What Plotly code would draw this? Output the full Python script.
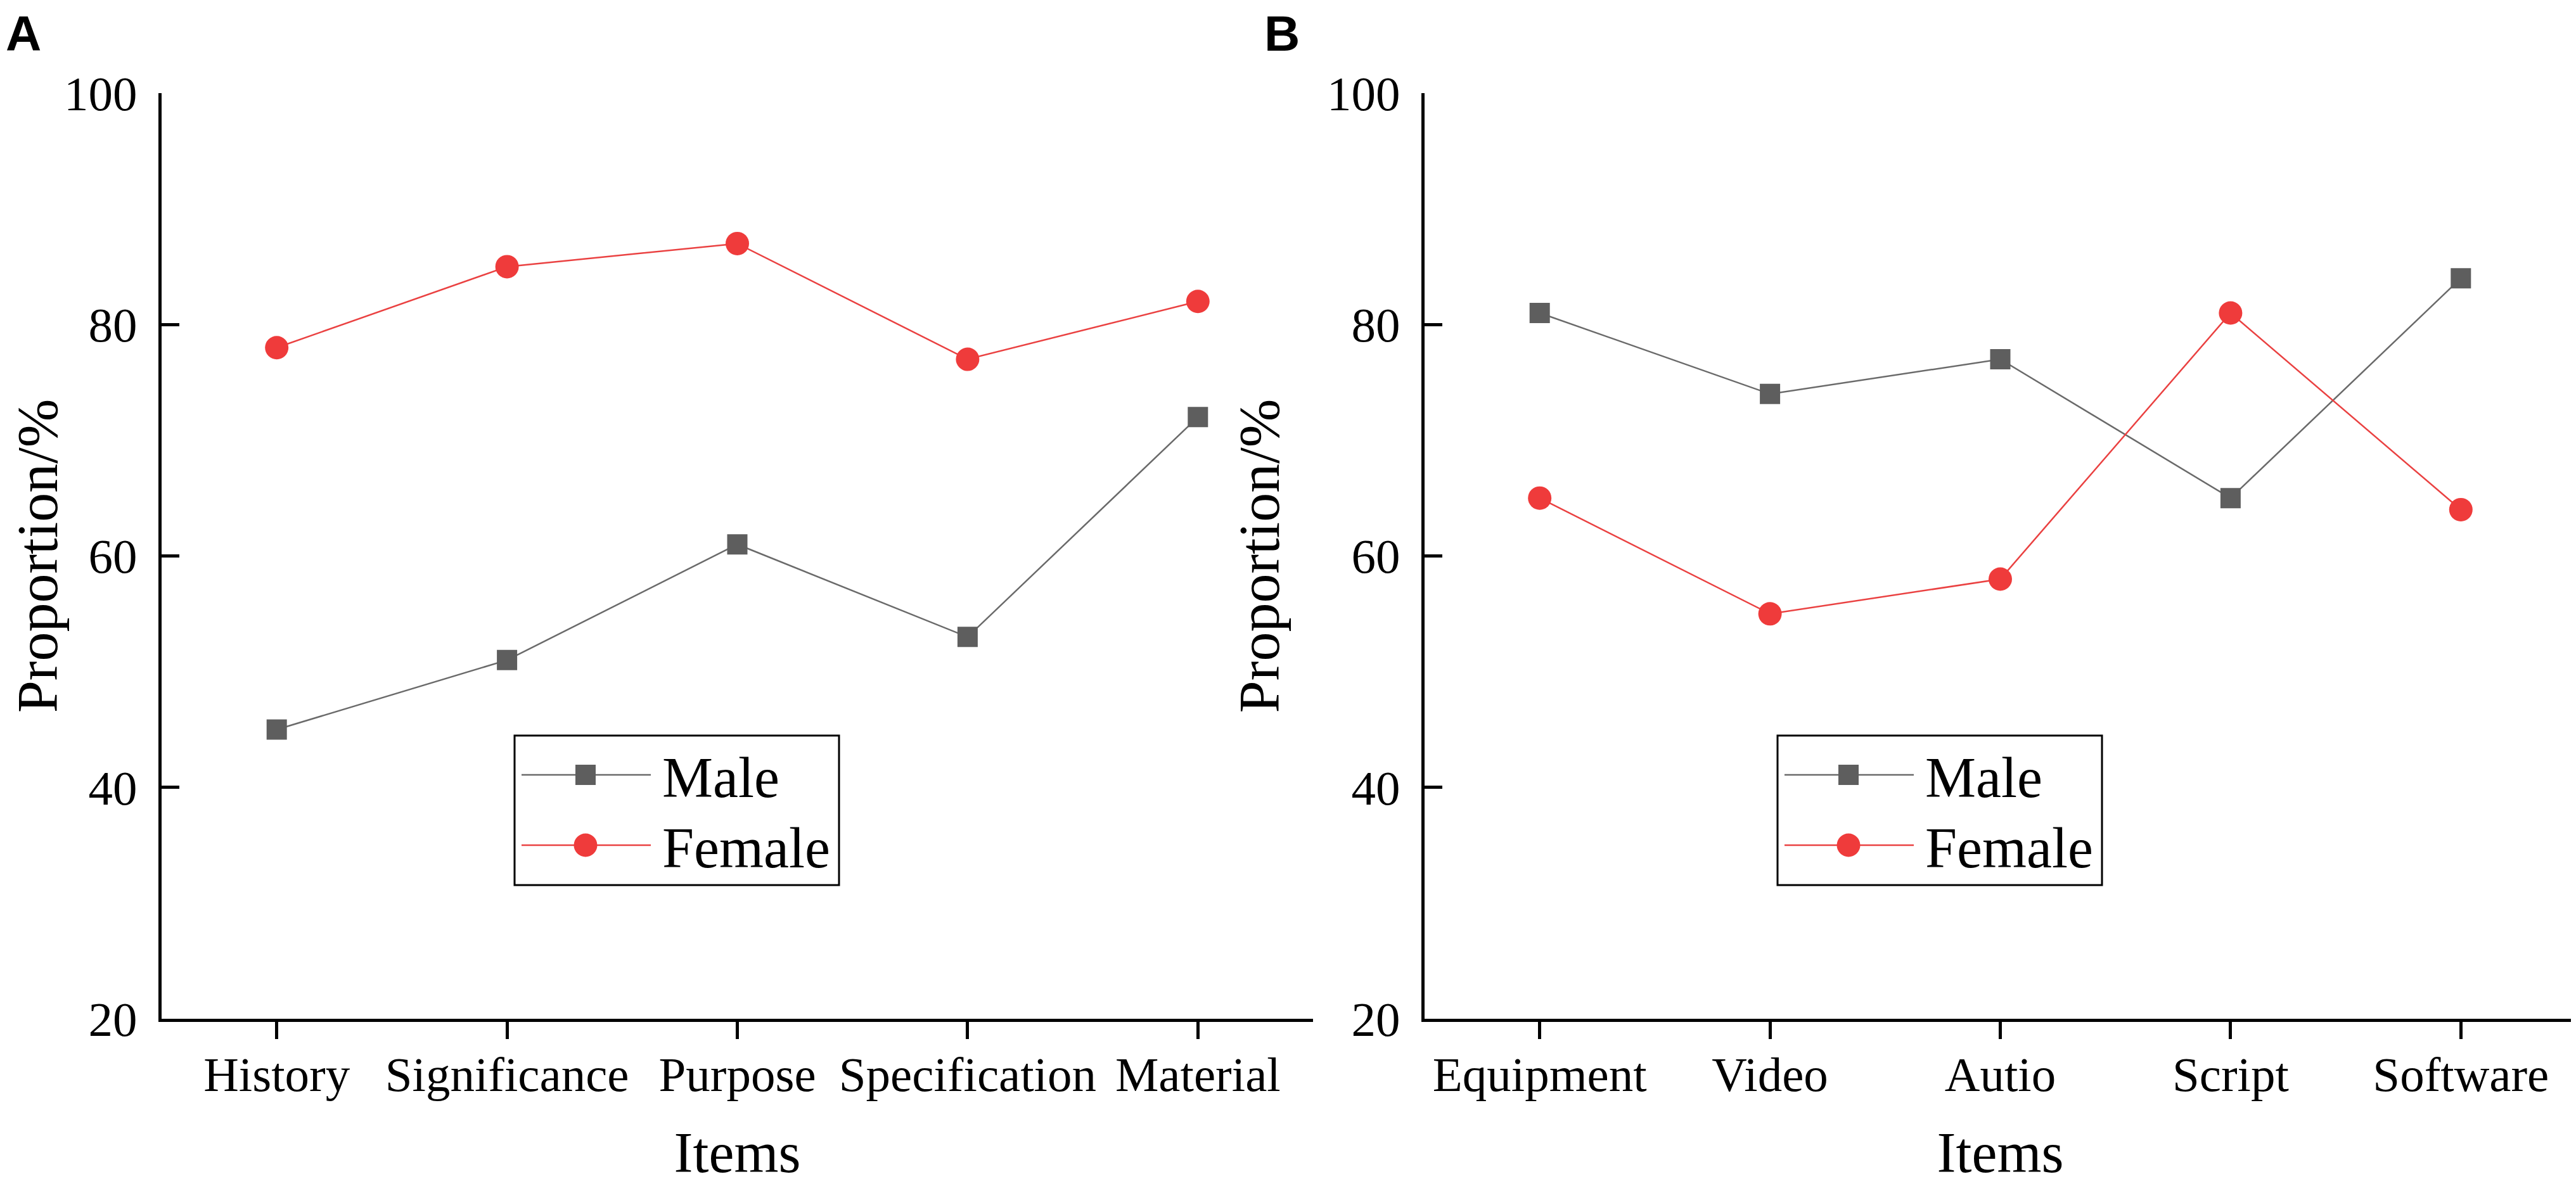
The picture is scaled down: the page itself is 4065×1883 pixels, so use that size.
import plotly.graph_objects as go

# ---------------- data ----------------
items_a = ["History", "Significance", "Purpose", "Specification", "Material"]
male_a = [45, 51, 61, 53, 72]
female_a = [78, 85, 87, 77, 82]

items_b = ["Equipment", "Video", "Autio", "Script", "Software"]
male_b = [81, 74, 77, 65, 84]
female_b = [65, 55, 58, 81, 64]

y_ticks = [20, 40, 60, 80, 100]
series_names = ["Male", "Female"]
panel_labels = ["A", "B"]

# ---------------- style ----------------
W, H = 4065, 1883
BODY = 8  # default page margin of the html body
FW, FH = W - BODY, H - BODY
MALE_COLOR = "#5E5E5E"
MALE_LINE = "#6A6A6A"
FEMALE_COLOR = "#EF3B3B"
FEMALE_LINE = "#EA4141"
SERIF = "Liberation Serif, Times New Roman, serif"
SANS = "Liberation Sans, Arial, sans-serif"


def px_x(x):
    return (x - BODY) / FW


def px_y(y):
    return 1 - (y - BODY) / FH


fig = go.Figure()

panels = [
    (items_a, male_a, female_a, "x", "y"),
    (items_b, male_b, female_b, "x2", "y2"),
]
for cats, m, f, xa, ya in panels:
    fig.add_trace(go.Scatter(
        x=cats, y=m, name="Male", mode="lines+markers",
        line=dict(color=MALE_LINE, width=2.5),
        marker=dict(symbol="square", size=32, color=MALE_COLOR, line=dict(width=0)),
        xaxis=xa, yaxis=ya, showlegend=False, cliponaxis=False))
    fig.add_trace(go.Scatter(
        x=cats, y=f, name="Female", mode="lines+markers",
        line=dict(color=FEMALE_LINE, width=2.5),
        marker=dict(symbol="circle", size=37, color=FEMALE_COLOR, line=dict(width=0)),
        xaxis=xa, yaxis=ya, showlegend=False, cliponaxis=False))

y_dom = [px_y(1608), px_y(147)]
xa_dom = [px_x(255), px_x(2072)]
xb_dom = [px_x(2248), 1.0]

common_x = dict(
    type="category", range=[-0.5, 4.5], showgrid=False, zeroline=False, automargin=False,
    showline=True, linecolor="black", linewidth=5, mirror=False,
    ticks="outside", ticklen=27, tickwidth=5, tickcolor="black",
    tickfont=dict(family=SERIF, size=77, color="black"), ticklabelstandoff=-10,
    title=dict(text="Items", font=dict(family=SERIF, size=90, color="black"), standoff=50),
)
common_y = dict(
    range=[20, 100], tickmode="array", tickvals=y_ticks, showgrid=False, zeroline=False,
    automargin=False,
    showline=True, linecolor="black", linewidth=5, mirror=False,
    ticks="inside", ticklen=28, tickwidth=5, tickcolor="black",
    tickfont=dict(family=SERIF, size=77, color="black"), ticklabelstandoff=18,
    title=dict(text="Proportion/%", font=dict(family=SERIF, size=92, color="black"), standoff=46),
)

fig.update_layout(
    width=FW, height=FH,
    margin=dict(l=0, r=0, t=0, b=0, pad=0, autoexpand=False),
    paper_bgcolor="white", plot_bgcolor="white",
    showlegend=False,
    xaxis=dict(domain=xa_dom, anchor="y", categoryarray=items_a, **common_x),
    yaxis=dict(domain=y_dom, anchor="x", **common_y),
    xaxis2=dict(domain=xb_dom, anchor="y2", categoryarray=items_b, **common_x),
    yaxis2=dict(domain=y_dom, anchor="x2", **common_y),
)

# ---------------- custom legends (long line samples as in the reference) ----------------
shapes = []
annotations = []
for off in (0, 1993):
    # frame
    shapes.append(dict(type="rect", xref="paper", yref="paper",
                       x0=px_x(812 + off), x1=px_x(1324 + off),
                       y0=px_y(1397), y1=px_y(1161),
                       line=dict(color="black", width=3), fillcolor="rgba(0,0,0,0)"))
    entries = [
        ("Male", 1223, MALE_LINE, MALE_COLOR, "square", 32),
        ("Female", 1334, FEMALE_LINE, FEMALE_COLOR, "circle", 37),
    ]
    for name, yc, lc, mc, sym, sz in entries:
        shapes.append(dict(type="line", xref="paper", yref="paper",
                           x0=px_x(823 + off), x1=px_x(1027 + off),
                           y0=px_y(yc), y1=px_y(yc), line=dict(color=lc, width=2.5)))
        cx = 924 + off
        shapes.append(dict(type="rect" if sym == "square" else "circle",
                           xref="paper", yref="paper",
                           x0=px_x(cx - sz / 2), x1=px_x(cx + sz / 2),
                           y0=px_y(yc + sz / 2), y1=px_y(yc - sz / 2),
                           line=dict(width=0), fillcolor=mc))
        annotations.append(dict(text=name, xref="paper", yref="paper",
                                x=px_x(1043 + off), y=px_y(yc + 4), xanchor="left", yanchor="middle",
                                showarrow=False, font=dict(family=SERIF, size=90, color="black")))

# panel labels
for lab, xl in zip(panel_labels, (0.0, px_x(1994))):
    annotations.append(dict(text="<b>%s</b>" % lab, xref="paper", yref="paper",
                            x=xl, y=1.0, xanchor="left", yanchor="top",
                            borderpad=0,
                            showarrow=False, font=dict(family=SANS, size=78, color="black")))

fig.update_layout(shapes=shapes, annotations=annotations)

fig.write_html("out.html")
